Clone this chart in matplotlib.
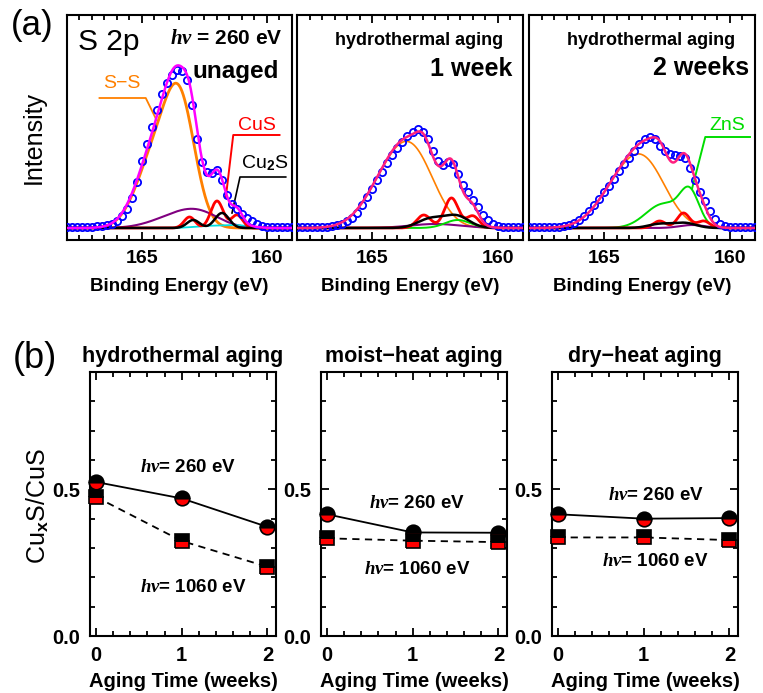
import numpy as np
import matplotlib
matplotlib.use('Agg')
import matplotlib.pyplot as plt
from matplotlib.ticker import MultipleLocator, FormatStrFormatter

plt.rcParams['font.family'] = ['Liberation Sans', 'DejaVu Sans']
plt.rcParams['font.weight'] = 'bold'
plt.rcParams['mathtext.fontset'] = 'custom'
plt.rcParams['mathtext.rm'] = 'Liberation Sans'
plt.rcParams['mathtext.it'] = 'Liberation Serif:italic:bold'
plt.rcParams['mathtext.bf'] = 'Liberation Sans:bold'

# ---------------- data: (a) S 2p spectra ----------------
energy = [168.0, 167.8, 167.6, 167.4, 167.2, 167.0, 166.8, 166.6, 166.4, 166.2,
          166.0, 165.8, 165.6, 165.4, 165.2, 165.0, 164.8, 164.6, 164.4, 164.2,
          164.0, 163.8, 163.6, 163.4, 163.2, 163.0, 162.8, 162.6, 162.4, 162.2,
          162.0, 161.8, 161.6, 161.4, 161.2, 161.0, 160.8, 160.6, 160.4, 160.2,
          160.0, 159.8, 159.6, 159.4, 159.2, 159.0]
spec_unaged = [1, 1, 1, 1, 1, 1, 2, 2, 3, 4, 7, 12, 19, 30, 46, 67, 84, 101, 118, 134,
               145, 153, 158, 157, 148, 123, 89, 66, 56, 55, 58, 48, 33, 24, 19, 14, 10, 7, 4, 2,
               1, 1, 1, 1, 1, 1]
spec_1week = [1, 1, 1, 1, 1, 1, 1, 2, 3, 4, 7, 10, 15, 23, 31, 39, 48, 56, 65, 73,
              80, 86, 92, 96, 99, 96, 89, 77, 67, 63, 66, 64, 54, 43, 36, 28, 21, 13, 8, 4,
              2, 1, 1, 1, 1, 1]
spec_2weeks = [1, 1, 1, 1, 1, 1, 1, 2, 3, 5, 8, 12, 17, 23, 29, 36, 42, 49, 57, 64,
               70, 77, 84, 89, 91, 89, 82, 77, 74, 73, 72, 70, 60, 48, 36, 27, 17, 9, 4, 2,
               1, 1, 1, 1, 1, 1]

# fitted components: (centre eV, height, sigma eV)
ss_unaged = [(163.45, 110, 0.60), (164.45, 72, 0.75)]
broad_unaged = [(162.75, 15, 0.85), (163.9, 8, 0.9)]
cus_unaged = [(163.1, 11, 0.22), (162.0, 27, 0.25), (161.2, 13, 0.22)]
cu2s_unaged = [(162.95, 8, 0.25), (161.8, 15, 0.28)]
minor_unaged = [(162.3, 2.0, 0.6), (161.2, 2.5, 0.5)]

ss_1week = [(163.3, 62, 0.85), (164.4, 42, 0.9)]
broad_1week = [(162.5, 4, 1.0)]
cus_1week = [(162.95, 13, 0.28), (161.85, 30, 0.28), (161.0, 12, 0.25)]
cu2s_1week = [(162.7, 9, 0.5), (161.65, 12, 0.5)]
zns_1week = [(161.6, 8, 0.5)]

ss_2weeks = [(163.3, 53, 0.85), (164.4, 36, 0.9)]
broad_2weeks = [(161.5, 3, 0.5)]
cus_2weeks = [(162.8, 7, 0.25), (161.85, 15, 0.25), (161.05, 7, 0.25)]
cu2s_2weeks = [(162.8, 4, 0.45), (161.8, 5, 0.45)]
zns_2weeks = [(161.6, 33, 0.38), (162.65, 24, 0.7)]

# ---------------- data: (b) CuxS/CuS ratio ----------------
aging_weeks = [0, 1, 2]
hydro_260 = [0.525, 0.469, 0.372]
hydro_1060 = [0.474, 0.324, 0.236]
moist_260 = [0.415, 0.353, 0.352]
moist_1060 = [0.333, 0.325, 0.320]
dry_260 = [0.415, 0.400, 0.402]
dry_1060 = [0.336, 0.336, 0.327]

W, H = 763, 693
fig = plt.figure(figsize=(W / 100, H / 100), dpi=100)


def ax_at(l, t, r, b):
    return fig.add_axes([l / W, 1 - b / H, (r - l) / W, (b - t) / H])


def fx(px):
    return px / W


def fy(py):
    return 1 - py / H


egrid = np.linspace(168, 159, 901)


def comp(peaks):
    y = np.zeros_like(egrid)
    for c, h, s in peaks:
        y += h * np.exp(-(egrid - c) ** 2 / (2 * s ** 2))
    return y


COL = {'ss': '#ff8000', 'broad': '#800080', 'minor': '#00e0e0',
       'zns': '#00dd00', 'cus': '#ff0000', 'cu2s': '#000000'}
LW = {'ss': 1.3, 'broad': 1.5, 'minor': 1.3, 'zns': 1.4, 'cus': 2.0, 'cu2s': 1.8}


def spectrum(ax, data, comps, env_color, ss_lw):
    total = np.zeros_like(egrid)
    for key in ['ss', 'broad', 'minor', 'zns', 'cus', 'cu2s']:
        if key in comps:
            y = comp(comps[key])
            total += y
            lw = ss_lw if key == 'ss' else LW[key]
            ax.plot(egrid, y, color=COL[key], lw=lw, zorder=2)
    ax.plot(energy, data, 'o', ms=5.2, mfc='none', mec='#0000ff', mew=1.3, zorder=3)
    ax.plot(egrid, total, color=env_color, lw=1.8, zorder=4)
    ax.set_xlim(168, 159)
    ax.set_ylim(-12, 213)
    ax.set_yticks([])
    ax.xaxis.set_major_locator(MultipleLocator(5))
    ax.xaxis.set_minor_locator(MultipleLocator(0.5))
    ax.tick_params(axis='x', which='both', direction='in', top=True, bottom=True,
                   width=1.3, labelsize=14, pad=7)
    ax.tick_params(axis='x', which='major', length=6)
    ax.tick_params(axis='x', which='minor', length=3.5)
    for s in ax.spines.values():
        s.set_linewidth(1.5)
    ax.set_xlabel('Binding Energy (eV)', fontsize=13.5, fontweight='bold', labelpad=8)


axA1 = ax_at(67, 15, 292, 240)
axA2 = ax_at(297, 15, 523, 240)
axA3 = ax_at(529, 15, 755, 240)

spectrum(axA1, spec_unaged, {'ss': ss_unaged, 'broad': broad_unaged, 'minor': minor_unaged,
                             'cus': cus_unaged, 'cu2s': cu2s_unaged}, '#ff00ff', 2.0)
spectrum(axA2, spec_1week, {'ss': ss_1week, 'broad': broad_1week, 'zns': zns_1week,
                            'cus': cus_1week, 'cu2s': cu2s_1week}, '#ff2080', 1.2)
spectrum(axA3, spec_2weeks, {'ss': ss_2weeks, 'broad': broad_2weeks, 'zns': zns_2weeks,
                             'cus': cus_2weeks, 'cu2s': cu2s_2weeks}, '#ff2080', 1.2)

# labels in panel (a)
axA1.text(0.05, 0.88, 'S 2p', transform=axA1.transAxes, fontsize=21.5, fontweight='normal',
          ha='left', va='center')
axA1.text(0.96, 0.895, '$h\\nu$ = 260 eV', transform=axA1.transAxes, fontsize=15,
          ha='right', va='center')
axA1.text(0.94, 0.75, 'unaged', transform=axA1.transAxes, fontsize=17.5, ha='right', va='center')
axA2.text(0.91, 0.885, 'hydrothermal aging', transform=axA2.transAxes, fontsize=13,
          ha='right', va='center')
axA2.text(0.955, 0.76, '1 week', transform=axA2.transAxes, fontsize=18, ha='right', va='center')
axA3.text(0.91, 0.885, 'hydrothermal aging', transform=axA3.transAxes, fontsize=13,
          ha='right', va='center')
axA3.text(0.975, 0.765, '2 weeks', transform=axA3.transAxes, fontsize=18, ha='right', va='center')

# component leaders
axA1.plot([166.7, 164.85, 164.42], [130, 130, 108], color=COL['ss'], lw=1.3)
axA1.text(165.8, 145, 'S\u2212S', color=COL['ss'], fontsize=14, fontweight='normal',
          ha='center', va='center')
axA1.plot([159.5, 161.35, 161.65], [93, 93, 30], color=COL['cus'], lw=1.4)
axA1.text(160.4, 103, 'CuS', color=COL['cus'], fontsize=14, fontweight='normal',
          ha='center', va='center')
axA1.plot([159.25, 161.08, 161.4], [51, 51, 15], color='k', lw=1.2)
axA1.text(160.1, 65, 'Cu$_2$S', color='k', fontsize=14, fontweight='normal',
          ha='center', va='center')
axA3.plot([159.2, 160.98, 161.5], [91, 91, 40], color=COL['zns'], lw=1.4)
axA3.text(160.1, 103, 'ZnS', color=COL['zns'], fontsize=14, fontweight='normal',
          ha='center', va='center')

fig.text(fx(32), fy(26), '(a)', fontsize=25, fontweight='normal', ha='center', va='center')
fig.text(fx(34), fy(138), 'Intensity', fontsize=18, fontweight='normal', rotation=90,
         ha='center', va='center')

# ---------------- panel (b) ----------------
axB = [ax_at(90, 372, 276, 636), ax_at(321, 372, 507, 636), ax_at(552, 372, 738, 636)]
titles = ['hydrothermal aging', 'moist\u2212heat aging', 'dry\u2212heat aging']
s260 = [hydro_260, moist_260, dry_260]
s1060 = [hydro_1060, moist_1060, dry_1060]
lab260 = [(188, 467), (417, 504), (656, 496)]
lab1060 = [(193, 587), (417, 570), (655, 562)]

for i, ax in enumerate(axB):
    ax.plot(aging_weeks, s260[i], '-', color='k', lw=1.3, zorder=2)
    ax.plot(aging_weeks, s1060[i], '--', color='k', lw=1.3, dashes=(4, 3), zorder=2)
    ax.plot(aging_weeks, s260[i], 'o', ms=10.5, fillstyle='bottom', mfc='#ff0000',
            mfcalt='#000000', mec='#000000', mew=1.2, zorder=3, clip_on=False)
    ax.plot(aging_weeks, s1060[i], 's', ms=10.5, fillstyle='bottom', mfc='#ff0000',
            mfcalt='#000000', mec='#000000', mew=1.2, zorder=3, clip_on=False)
    ax.set_xlim(-0.07, 2.1)
    ax.set_ylim(0, 0.9)
    ax.xaxis.set_major_locator(MultipleLocator(1))
    ax.xaxis.set_minor_locator(MultipleLocator(0.2))
    ax.yaxis.set_major_locator(MultipleLocator(0.5))
    ax.yaxis.set_minor_locator(MultipleLocator(0.1))
    ax.yaxis.set_major_formatter(FormatStrFormatter('%.1f'))
    ax.tick_params(which='both', direction='in', top=True, right=True, width=1.3,
                   labelsize=14.5, pad=7)
    ax.tick_params(which='major', length=6)
    ax.tick_params(which='minor', length=3.5)
    for s in ax.spines.values():
        s.set_linewidth(1.5)
    ax.set_title(titles[i], fontsize=15.5, fontweight='bold', pad=7)
    ax.set_xlabel('Aging Time (weeks)', fontsize=14.5, fontweight='bold', labelpad=5)
    fig.text(fx(lab260[i][0]), fy(lab260[i][1]), '$h\\nu$= 260 eV', fontsize=13.5,
             ha='center', va='center')
    fig.text(fx(lab1060[i][0]), fy(lab1060[i][1]), '$h\\nu$= 1060 eV', fontsize=13.5,
             ha='center', va='center')

fig.text(fx(35), fy(358), '(b)', fontsize=26, fontweight='normal', ha='center', va='center')
fig.text(fx(38), fy(506), 'Cu$_\\mathrm{x}$S/CuS', fontsize=18, fontweight='normal',
         rotation=90, ha='center', va='center')

fig.savefig('out.png', dpi=100)
